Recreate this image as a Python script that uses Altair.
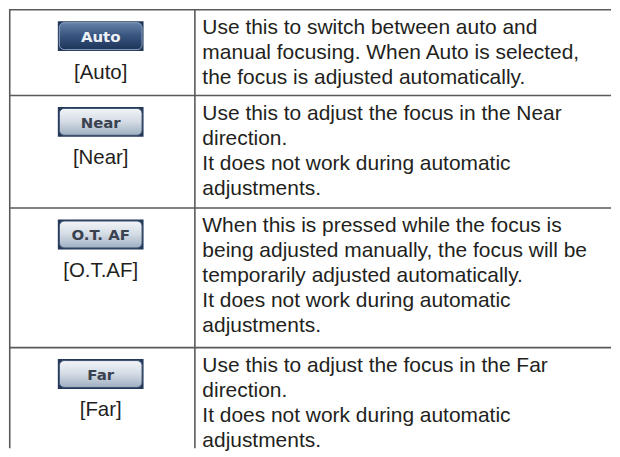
import altair as alt
import pandas as pd

# ---------------- data ----------------
buttons = ["Auto", "Near", "O.T. AF", "Far"]
labels = ["[Auto]", "[Near]", "[O.T.AF]", "[Far]"]
selected = [True, False, False, False]
descriptions = [
    ["Use this to switch between auto and",
     "manual focusing. When Auto is selected,",
     "the focus is adjusted automatically."],
    ["Use this to adjust the focus in the Near",
     "direction.",
     "It does not work during automatic",
     "adjustments."],
    ["When this is pressed while the focus is",
     "being adjusted manually, the focus will be",
     "temporarily adjusted automatically.",
     "It does not work during automatic",
     "adjustments."],
    ["Use this to adjust the focus in the Far",
     "direction.",
     "It does not work during automatic",
     "adjustments."],
]

# ---------------- layout constants ----------------
W, H = 604, 441
ROW_LINE = 27.0      # row growth per text line
ROW_PAD = 5.0
TOP = 1.0
TEXT_LINE = 25.0
FIRST_LINE = 18.5
COL_X = 186.5
TEXT_X = 194.0
BTN_X0, BTN_X1 = 49.0, 135.0
BTN_DY, BTN_H = 11.5, 30.0
LABEL_DY = 69.0
CENTER_X = 92.0

row_tops = []
y = TOP
for d in descriptions:
    row_tops.append(y)
    y += len(d) * ROW_LINE + ROW_PAD

hl = pd.DataFrame({"y": row_tops, "x0": 0.0, "x1": float(W)})
vl = pd.DataFrame({"x": [0.75, COL_X], "y0": TOP, "y1": float(H)})

btn_rows = []
desc_rows = []
for i, (b, lab, sel, d) in enumerate(zip(buttons, labels, selected, descriptions)):
    t = row_tops[i]
    btn_rows.append({
        "button": b, "label": lab, "selected": sel,
        "x0": BTN_X0, "x1": BTN_X1, "y0": t + BTN_DY, "y1": t + BTN_DY + BTN_H,
        "ix0": BTN_X0 + 1.5, "ix1": BTN_X1 - 1.5,
        "iy0": t + BTN_DY + 1.5, "iy1": t + BTN_DY + BTN_H - 1.5,
        "cx": CENTER_X, "cy": t + BTN_DY + BTN_H / 2 + 1,
        "ly": t + LABEL_DY,
    })
    for k, line in enumerate(d):
        desc_rows.append({"text": line, "x": TEXT_X, "y": t + FIRST_LINE + k * TEXT_LINE})

bdf = pd.DataFrame(btn_rows)
ddf = pd.DataFrame(desc_rows)

xs = alt.Scale(domain=[0, W], range=[0, W], nice=False, zero=False)
ys = alt.Scale(domain=[H, 0], nice=False, zero=False)


def X(f):
    return alt.X(f, type="quantitative", scale=xs, axis=None)


def Y(f):
    return alt.Y(f, type="quantitative", scale=ys, axis=None)


LINE_COLOR = "#5a5a5a"

hlines = alt.Chart(hl).mark_rule(color=LINE_COLOR, strokeWidth=1.6).encode(
    x=X("x0"), x2="x1", y=Y("y"))
vlines = alt.Chart(vl).mark_rule(color=LINE_COLOR, strokeWidth=1.6).encode(
    x=X("x"), y=Y("y0"), y2="y1")

base_btn = alt.Chart(bdf)
outer = base_btn.mark_rect(color="#24395a").encode(
    x=X("x0"), x2="x1", y=Y("y0"), y2="y1")

grad_on = alt.Gradient(
    gradient="linear", x1=0, y1=0, x2=0, y2=1,
    stops=[alt.GradientStop(color="#6782a8", offset=0),
           alt.GradientStop(color="#3a5782", offset=0.45),
           alt.GradientStop(color="#1e3458", offset=1)])
grad_off = alt.Gradient(
    gradient="linear", x1=0, y1=0, x2=0, y2=1,
    stops=[alt.GradientStop(color="#f2f5f8", offset=0),
           alt.GradientStop(color="#d3dbe4", offset=0.5),
           alt.GradientStop(color="#9eafc1", offset=1)])

inner_on = base_btn.transform_filter("datum.selected").mark_rect(
    fill=grad_on, stroke="#8aa2c2", strokeWidth=1, cornerRadius=5).encode(
    x=X("ix0"), x2="ix1", y=Y("iy0"), y2="iy1")
inner_off = base_btn.transform_filter("!datum.selected").mark_rect(
    fill=grad_off, stroke="#3b5070", strokeWidth=1, cornerRadius=5).encode(
    x=X("ix0"), x2="ix1", y=Y("iy0"), y2="iy1")

btn_text_on = base_btn.transform_filter("datum.selected").mark_text(
    font="DejaVu Sans", fontWeight="bold", fontSize=15, color="#eef2f7",
    align="center", baseline="middle").encode(
    x=X("cx"), y=Y("cy"), text="button:N")
btn_text_off = base_btn.transform_filter("!datum.selected").mark_text(
    font="DejaVu Sans", fontWeight="bold", fontSize=15, color="#3a4250",
    align="center", baseline="middle").encode(
    x=X("cx"), y=Y("cy"), text="button:N")

label_text = base_btn.mark_text(
    font="Liberation Sans", fontSize=20.5, color="#231f20",
    align="center", baseline="alphabetic").encode(
    x=X("cx"), y=Y("ly"), text="label:N")

desc_text = alt.Chart(ddf).mark_text(
    font="Liberation Sans", fontSize=21, color="#231f20",
    align="left", baseline="middle").encode(
    x=X("x"), y=Y("y"), text="text:N")

chart = alt.layer(
    hlines, vlines, outer, inner_on, inner_off,
    btn_text_on, btn_text_off, label_text, desc_text
).properties(width=W, height=H, padding=0, background="white").configure_view(
    strokeWidth=0)

chart.save("out.html", embed_options={"renderer": "svg", "actions": False})
